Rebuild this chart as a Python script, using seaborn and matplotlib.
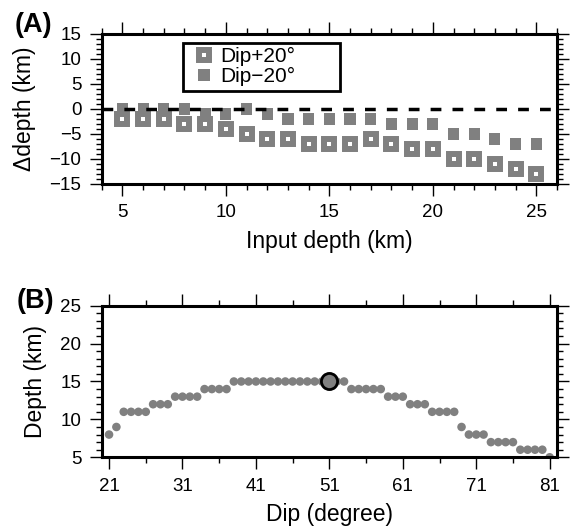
import matplotlib
matplotlib.use("Agg")
import matplotlib.pyplot as plt
from matplotlib.ticker import MultipleLocator
from matplotlib.lines import Line2D
import seaborn as sns

# data
input_depth = [5, 6, 7, 8, 9, 10, 11, 12, 13, 14, 15, 16, 17, 18, 19, 20, 21, 22, 23, 24, 25]
ddepth_plus = [-2, -2, -2, -3, -3, -4, -5, -6, -6, -7, -7, -7, -6, -7, -8, -8, -10, -10, -11, -12, -13]
ddepth_minus = [0, 0, 0, 0, -1, -1, 0, -1, -2, -2, -2, -2, -2, -3, -3, -3, -5, -5, -6, -7, -7]
legend_labels = ["Dip+20°", "Dip\u221220°"]

dips = list(range(21, 82))
depths = [8, 9, 11, 11, 11, 11, 12, 12, 12, 13, 13, 13, 13, 14, 14, 14, 14,
          15, 15, 15, 15, 15, 15, 15, 15, 15, 15, 15, 15, 15, 15, 15, 15,
          14, 14, 14, 14, 14, 13, 13, 13, 12, 12, 12, 11, 11, 11, 11, 9,
          8, 8, 8, 7, 7, 7, 7, 6, 6, 6, 6, 5]
best_dip = [51]
best_depth = [15]

gray = "#808080"

sns.set_theme(style="ticks", rc={
    "axes.edgecolor": "black",
    "axes.linewidth": 2.2,
    "xtick.color": "black",
    "ytick.color": "black",
    "text.color": "black",
    "axes.labelcolor": "black",
    "xtick.major.size": 8.6,
    "ytick.major.size": 8.6,
    "xtick.minor.size": 4.3,
    "ytick.minor.size": 4.3,
    "xtick.major.width": 1.0,
    "ytick.major.width": 1.0,
    "xtick.minor.width": 1.0,
    "ytick.minor.width": 1.0,
    "xtick.major.pad": 6,
    "ytick.major.pad": 6,
})
plt.rcParams["font.family"] = ["Liberation Sans", "DejaVu Sans"]

fig = plt.figure(figsize=(5.72, 5.31), dpi=100)
ax1 = fig.add_axes([0.1778, 0.6535, 0.7960, 0.2825])
ax2 = fig.add_axes([0.1778, 0.1388, 0.7960, 0.2855])

# (A)
sns.scatterplot(x=input_depth, y=ddepth_minus, marker="s", s=64, color=gray,
                edgecolor="none", linewidth=0, ax=ax1, zorder=2, legend=False)
sns.scatterplot(x=input_depth, y=ddepth_plus, marker="s", s=52, facecolor="white",
                edgecolor=gray, linewidth=4.3, ax=ax1, zorder=3, legend=False)
for c in ax1.collections:
    c.set_joinstyle("miter")
ax1.axhline(0, color="black", lw=2.5, dashes=(3.1, 3.2), zorder=4)

ax1.set_xlim(4, 26)
ax1.set_ylim(-15, 15)
ax1.xaxis.set_major_locator(MultipleLocator(5))
ax1.xaxis.set_minor_locator(MultipleLocator(1))
ax1.yaxis.set_major_locator(MultipleLocator(5))
ax1.yaxis.set_minor_locator(MultipleLocator(1))
ax1.set_xlabel("Input depth (km)", fontsize=16.5, labelpad=6)
ax1.set_ylabel("\u0394depth (km)", fontsize=16.5, labelpad=10)

handles = [
    Line2D([], [], ls="", marker="s", ms=7.2, mfc="white", mec=gray, mew=4.3),
    Line2D([], [], ls="", marker="s", ms=8.0, mfc=gray, mec="none", mew=0),
]
leg = ax1.legend(handles, legend_labels,
                 loc="upper left", bbox_to_anchor=(0.3199, 0.85, 0.2745, 0.069),
                 bbox_transform=fig.transFigure, mode="expand", borderaxespad=0,
                 fontsize=15, frameon=True, fancybox=False, framealpha=1,
                 edgecolor="black", borderpad=0.2, labelspacing=0.05,
                 handlelength=1.6, handletextpad=0.0, numpoints=1)
leg.get_frame().set_linewidth(2.0)

# (B)
sns.scatterplot(x=dips, y=depths, s=38, color=gray, edgecolor="none",
                linewidth=0, ax=ax2, zorder=2, legend=False)
sns.scatterplot(x=best_dip, y=best_depth, s=135, color=gray, edgecolor="black",
                linewidth=2.0, ax=ax2, zorder=3, legend=False)
ax2.set_xlim(20, 82)
ax2.set_ylim(5, 25)
ax2.xaxis.set_major_locator(MultipleLocator(10, offset=1))
ax2.xaxis.set_minor_locator(MultipleLocator(5, offset=1))
ax2.yaxis.set_major_locator(MultipleLocator(5))
ax2.yaxis.set_minor_locator(MultipleLocator(1))
ax2.set_xlabel("Dip (degree)", fontsize=16.5, labelpad=6)
ax2.set_ylabel("Depth (km)", fontsize=16.5, labelpad=10)

for ax in (ax1, ax2):
    ax.tick_params(which="both", direction="out", top=True, right=True,
                   labeltop=False, labelright=False, labelsize=13.5)
    for sp in ax.spines.values():
        sp.set_visible(True)
        sp.set_linewidth(2.2)

fig.text(0.026, 0.9397, "(A)", fontsize=19.5, fontweight="bold", va="baseline")
fig.text(0.029, 0.42, "(B)", fontsize=19.5, fontweight="bold", va="baseline")

fig.savefig("out.png", dpi=100)
